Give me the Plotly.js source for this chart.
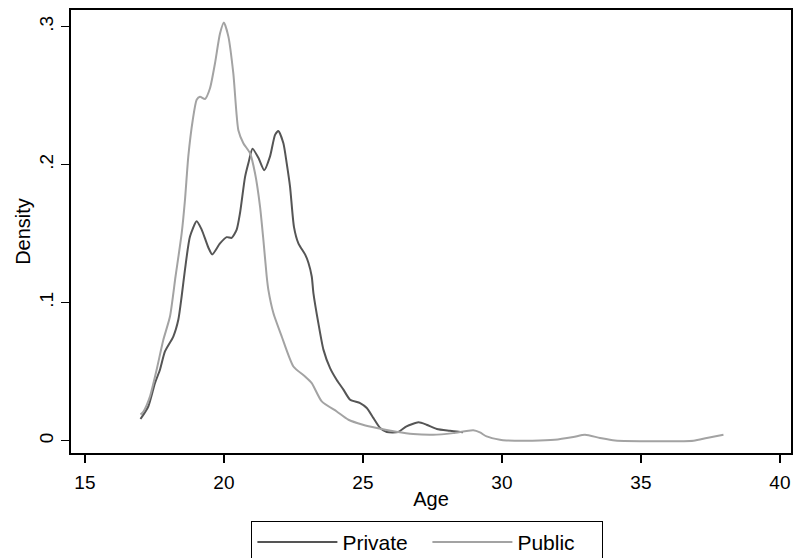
<!DOCTYPE html>
<html>
<head>
<meta charset="utf-8">
<script src="https://cdn.plot.ly/plotly-3.0.1.min.js"></script>
<style>html,body{margin:0;padding:0;background:#fff;}#chart{width:793px;height:558px;}</style>
</head>
<body>
<div id="chart"></div>
<script>
// Private school: age vs density
const privateAge = [17.0,17.28,17.52,17.7,17.88,18.18,18.36,18.48,18.6,18.78,19.02,19.2,19.44,19.58,19.86,20.1,20.28,20.46,20.58,20.76,20.88,21.03,21.24,21.45,21.66,21.84,21.96,22.14,22.26,22.38,22.52,22.68,22.92,23.04,23.16,23.22,23.40,23.58,23.82,24.06,24.3,24.54,24.9,25.14,25.38,25.62,25.86,26.27,26.57,27.0,27.29,27.66,28.13,28.5,28.6];
const privateDensity = [0.0157,0.0248,0.0417,0.0514,0.0647,0.0755,0.0876,0.1045,0.124,0.148,0.159,0.153,0.140,0.135,0.143,0.1475,0.147,0.153,0.165,0.191,0.201,0.2115,0.205,0.196,0.206,0.2216,0.2245,0.2156,0.201,0.184,0.155,0.143,0.135,0.129,0.119,0.107,0.085,0.066,0.0526,0.044,0.037,0.0297,0.0273,0.0237,0.0164,0.0092,0.0063,0.0063,0.0104,0.0133,0.0116,0.0085,0.0072,0.0063,0.0062];
// Public school: age vs density
const publicAge = [17.0,17.1,17.34,17.58,17.82,18.06,18.26,18.48,18.6,18.72,18.88,19.02,19.14,19.32,19.5,19.68,19.86,20.0,20.16,20.34,20.52,20.7,20.94,21.12,21.3,21.42,21.54,21.6,21.78,22.08,22.5,22.92,23.16,23.52,24.06,24.48,25.0,25.5,26.2,26.81,27.53,28.25,28.97,29.21,29.45,29.93,30.17,31.1,31.9,32.57,32.99,33.53,34.07,36.89,37.37,37.97];
const publicDensity = [0.019,0.021,0.032,0.0514,0.073,0.090,0.119,0.150,0.1745,0.206,0.2324,0.247,0.2493,0.2476,0.2554,0.2735,0.295,0.303,0.293,0.266,0.225,0.2156,0.2083,0.1938,0.1697,0.1456,0.119,0.1093,0.0925,0.0755,0.0538,0.0466,0.0418,0.0285,0.0212,0.0152,0.0116,0.0092,0.0065,0.0048,0.0043,0.0055,0.0075,0.006,0.0031,0.0007,0.0002,0.0,0.0007,0.0027,0.0043,0.002,0.0002,0.0,0.002,0.0043];
const xTicks = [15,20,25,30,35,40];
const yTicks = [0,0.1,0.2,0.3];
const yTickLabels = ['0','.1','.2','.3'];

const traces = [
  {x: privateAge, y: privateDensity, name: 'Private', type: 'scatter', mode: 'lines',
   line: {color: '#555555', width: 2, shape: 'spline', smoothing: 0.6}},
  {x: publicAge, y: publicDensity, name: 'Public', type: 'scatter', mode: 'lines',
   line: {color: '#a3a3a3', width: 2, shape: 'spline', smoothing: 0.6}}
];

const font = 'Liberation Sans, Arial, sans-serif';
const layout = {
  width: 793, height: 558,
  margin: {l: 71, r: 2, t: 10, b: 105, pad: 0, autoexpand: false},
  paper_bgcolor: '#ffffff', plot_bgcolor: '#ffffff',
  font: {family: font, size: 19, color: '#000'},
  showlegend: true,
  legend: {orientation: 'h', x: 0.495, xanchor: 'center', y: -0.153, yanchor: 'top',
           bordercolor: '#000', borderwidth: 1, bgcolor: '#fff',
           font: {family: font, size: 21, color: '#000'}, itemwidth: 80, entrywidth: 80},
  xaxis: {range: [14.5, 40.4], tickvals: xTicks, ticks: 'outside', ticklen: 8, tickwidth: 1.5,
          tickcolor: '#000', showgrid: false, zeroline: false, showline: true, linecolor: '#000',
          linewidth: 2, mirror: true, tickfont: {size: 19}, ticklabelstandoff: 3,
          title: {text: 'Age', font: {size: 20}, standoff: 0}},
  yaxis: {range: [-0.0089, 0.3121], tickvals: yTicks, ticktext: yTickLabels, tickangle: -90,
          ticks: 'outside', ticklen: 8, tickwidth: 1.5, tickcolor: '#000', showgrid: false,
          zeroline: false, showline: true, linecolor: '#000', linewidth: 2, mirror: true,
          tickfont: {size: 19},
          title: {text: 'Density', font: {size: 20}, standoff: 0}}
};
Plotly.newPlot('chart', traces, layout, {displayModeBar: false, staticPlot: true});
</script>
</body>
</html>
